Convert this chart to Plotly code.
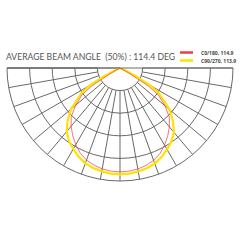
import plotly.graph_objects as go

# ---- data ----
angles = [-90, -80, -70, -65, -62.5, -60, -57.5, -55, -50, -45, -40, -35, -30, -25, -20, -15, -10, -5,
          0, 5, 10, 15, 20, 25, 30, 35, 40, 45, 50, 55, 57.5, 60, 62.5, 65, 70, 80, 90]
c0_180 = [0, 0, 0, 0, 1.8, 10.6, 29.2, 40.7, 51.3, 61.1, 67.3, 73.0, 78.3, 83.2, 86.7, 88.9, 90.7, 91.6,
          92.0, 91.6, 90.8, 89.2, 87.0, 83.6, 78.8, 73.6, 68.0, 61.8, 52.0, 41.2, 29.6, 11.0, 2.0, 0, 0, 0, 0]
c90_270 = [0, 0, 0, 3.5, 15.9, 29.2, 39.8, 44.2, 56.6, 65.5, 73.5, 78.8, 82.7, 86.7, 89.8, 91.6, 92.9, 93.8,
           94.2, 93.8, 93.0, 91.8, 90.0, 87.0, 83.2, 79.4, 74.2, 66.2, 57.2, 44.8, 40.2, 29.6, 16.2, 3.8, 0, 0, 0]
series_names = ["C0/180, 114.9", "C90/270, 113.9"]
series_colors = ["#f23c46", "#ffe200"]
ring_values = [20, 40, 60, 80, 100]
title_text = "AVERAGE BEAM ANGLE\u00a0\u00a0(50%) : 114.4 DEG"

GRID = "#6a6a6a"
dom_x = [7 / 240, 233 / 240]
dom_y = [1 - 181 / 240, 1 - 68 / 240]

fig = go.Figure()
# anchor trace for background grid polar
fig.add_trace(go.Scatterpolar(r=[], theta=[], subplot="polar", showlegend=False))
fig.add_trace(go.Scatterpolar(r=c90_270, theta=angles, mode="lines", subplot="polar2",
                              line=dict(color=series_colors[1], width=2.2), name=series_names[1],
                              showlegend=False))
fig.add_trace(go.Scatterpolar(r=c0_180, theta=angles, mode="lines", subplot="polar2",
                              line=dict(color=series_colors[0], width=1.0), opacity=0.7,
                              name=series_names[0], showlegend=False))

fig.update_layout(
    width=240, height=240, autosize=False,
    margin=dict(l=0, r=0, t=0, b=0),
    paper_bgcolor="white", plot_bgcolor="white",
    polar=dict(
        domain=dict(x=dom_x, y=dom_y), sector=[180, 360], hole=0.2,
        bgcolor="rgba(0,0,0,0)",
        radialaxis=dict(visible=False, range=[20, 100], showgrid=False),
        angularaxis=dict(rotation=-90, direction="counterclockwise", dtick=10,
                         showgrid=True, gridcolor=GRID, gridwidth=1,
                         showticklabels=False, ticks="", showline=False),
    ),
    polar2=dict(
        domain=dict(x=dom_x, y=dom_y), sector=[180, 360], hole=0,
        bgcolor="rgba(0,0,0,0)",
        radialaxis=dict(range=[0, 100], tickvals=ring_values, showgrid=True, gridcolor=GRID,
                        gridwidth=1, showline=False, showticklabels=False, ticks=""),
        angularaxis=dict(rotation=-90, direction="counterclockwise", tickvals=[90, 270],
                         showgrid=True, gridcolor=GRID, gridwidth=1, showticklabels=False,
                         ticks="", showline=True, linecolor=GRID, linewidth=1),
    ),
    title=dict(text=title_text, x=6 / 240, xanchor="left", xref="paper",
               y=1 - 57 / 240, yanchor="middle", yref="paper",
               font=dict(family="Lato", size=8.6, color="#555555")),
)

# custom compact legend
leg_y = [1 - 52.5 / 240, 1 - 60.5 / 240]
for name, color, yy in zip(series_names, series_colors, leg_y):
    fig.add_shape(type="line", xref="paper", yref="paper", x0=180 / 240, x1=193 / 240,
                  y0=yy, y1=yy, line=dict(color=color, width=2.5))
    fig.add_annotation(text="<b>" + name + "</b>", xref="paper", yref="paper",
                       x=199 / 240, y=yy, xanchor="left", yanchor="middle", showarrow=False,
                       font=dict(family="Open Sans", size=5, color="#444444"))

fig.write_html("out.html")
